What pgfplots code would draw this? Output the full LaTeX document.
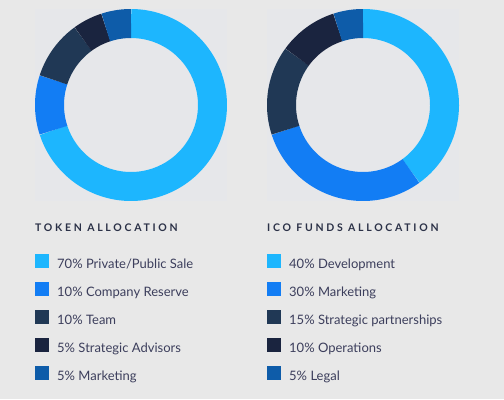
\documentclass[border=0pt]{standalone}
\usepackage{fontspec}
\setmainfont{Lato}
\usepackage{pgfplots}
\usepgfplotslibrary{polar}
\pgfplotsset{compat=1.18}
\definecolor{bg}{HTML}{E8E8E8}
\definecolor{boxc}{HTML}{E6E7EA}
\definecolor{cA}{HTML}{1DB6FE}
\definecolor{cB}{HTML}{127DF4}
\definecolor{cC}{HTML}{203855}
\definecolor{cD}{HTML}{1A243F}
\definecolor{cE}{HTML}{0E5CA9}
\definecolor{ttl}{HTML}{2B3147}
\definecolor{txt}{HTML}{3C3E5C}
\pgfplotsset{
  donut/.style={width=192bp, height=192bp, scale only axis, hide axis, clip=false,
    ymin=0, ymax=96, xmin=-270, xmax=90, anchor=center},
  slice/.style={line width=29bp, draw=#1, samples=90, no markers},
}
\newcommand{\legtxt}{\fontsize{13bp}{15bp}\selectfont}
\newcommand{\ttltxt}{\fontsize{10.5bp}{12bp}\selectfont\bfseries\addfontfeature{LetterSpace=26}}
\begin{document}
\begin{tikzpicture}[x=1bp,y=1bp]
\path[use as bounding box, fill=bg] (0,0) rectangle (504,399);
\fill[boxc] (35,198) rectangle (227,390);
\fill[boxc] (267,198) rectangle (459,390);
% Token allocation: 70, 10, 10, 5, 5 (percent), clockwise from top
\begin{polaraxis}[donut, at={(131bp,294bp)}]
\addplot[slice=cA, domain={90-3.6*70}:{90}] {81.5};
\addplot[slice=cB, domain={90-3.6*80}:{90-3.6*70}] {81.5};
\addplot[slice=cC, domain={90-3.6*90}:{90-3.6*80}] {81.5};
\addplot[slice=cD, domain={90-3.6*95}:{90-3.6*90}] {81.5};
\addplot[slice=cE, domain={90-3.6*100}:{90-3.6*95}] {81.5};
\end{polaraxis}
% ICO funds allocation: 40, 30, 15, 10, 5 (percent)
\begin{polaraxis}[donut, at={(363bp,294bp)}]
\addplot[slice=cA, domain={90-3.6*40}:{90}] {81.5};
\addplot[slice=cB, domain={90-3.6*70}:{90-3.6*40}] {81.5};
\addplot[slice=cC, domain={90-3.6*85}:{90-3.6*70}] {81.5};
\addplot[slice=cD, domain={90-3.6*95}:{90-3.6*85}] {81.5};
\addplot[slice=cE, domain={90-3.6*100}:{90-3.6*95}] {81.5};
\end{polaraxis}
% titles
\node[anchor=base west, inner sep=0, text=ttl, font=\ttltxt] at (35,167.3) {TOKEN ALLOCATION};
\node[anchor=base west, inner sep=0, text=ttl, font=\ttltxt] at (267,167.3) {ICO FUNDS ALLOCATION};
% legends
\foreach \c/\t [count=\i from 0] in {cA/70\% Private\slash Public Sale, cB/10\% Company Reserve, cC/10\% Team, cD/5\% Strategic Advisors, cE/5\% Marketing}{
  \fill[\c] (35,{145-28*\i}) rectangle (49,{131-28*\i});
  \node[anchor=base west, inner sep=0, text=txt, font=\legtxt] at (57,{131-28*\i}) {\t};
}
\foreach \c/\t [count=\i from 0] in {cA/40\% Development, cB/30\% Marketing, cC/15\% Strategic partnerships, cD/10\% Operations, cE/5\% Legal}{
  \fill[\c] (267,{145-28*\i}) rectangle (281,{131-28*\i});
  \node[anchor=base west, inner sep=0, text=txt, font=\legtxt] at (289,{131-28*\i}) {\t};
}
\end{tikzpicture}
\end{document}
